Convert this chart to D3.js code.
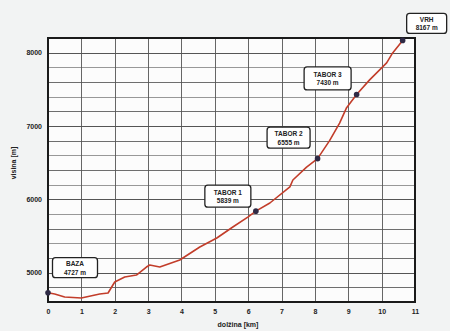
<!DOCTYPE html>
<meta charset="utf-8">
<style>
body { margin: 0; background: #f2f3f3; }
.grid line { stroke: #555; shape-rendering: crispEdges; }
.grid path { stroke-width: 0; }
.tick text { font: bold 7px "Liberation Sans", Arial, sans-serif; fill: #222; }
.axis path, .axis line { stroke: none; }
.profile { fill: none; stroke: #c23d2a; stroke-width: 1.6px; stroke-linejoin: round; }
.camp { fill: #2f2a45; }
.box rect { fill: #fff; stroke: #222; stroke-width: 1.3px; }
.box text { font: bold 6.5px "Liberation Sans", Arial, sans-serif; fill: #222; text-anchor: middle; }
.title { font: bold 7px "Liberation Sans", Arial, sans-serif; fill: #222; }
</style>
<body>
<script src="https://d3js.org/d3.v7.min.js"></script>
<script>
// route profile: distance [km], altitude [m]
var distKm = [0, 0.2, 0.5, 1.0, 1.55, 1.8, 2.0, 2.3, 2.65, 2.95, 3.05, 3.35, 3.95, 4.55, 5.06, 5.54,
              6.0, 6.23, 6.65, 7.25, 7.34, 7.75, 8.08, 8.44, 8.74, 8.95, 9.25, 9.64, 10.15, 10.33, 10.63];
var altM   = [4727, 4709, 4668, 4655, 4709, 4723, 4873, 4941, 4968, 5077, 5105, 5077, 5173, 5350, 5473, 5623,
              5760, 5839, 5950, 6169, 6264, 6440, 6555, 6800, 7040, 7250, 7430, 7629, 7861, 7997, 8167];

// camps
var campName = ["BAZA", "TABOR 1", "TABOR 2", "TABOR 3", "VRH"];
var campKm   = [0, 6.23, 8.08, 9.25, 10.63];
var campAlt  = [4727, 5839, 6555, 7430, 8167];

var xTicks = [0, 1, 2, 3, 4, 5, 6, 7, 8, 9, 10, 11];
var yTicks = [5000, 6000, 7000, 8000];
var yGrid = d3.range(4600, 8201, 200);

// label box layout: offset of box centre from the camp dot, and box size
var boxLayout = [
  {dx: 27, dy: -25, w: 45, h: 20},
  {dx: -28, dy: -15, w: 46, h: 22},
  {dx: -29, dy: -21, w: 43, h: 21},
  {dx: -29, dy: -16, w: 47, h: 23},
  {dx: 24, dy: -17, w: 40, h: 20}
];

var margin = {top: 38, right: 35, bottom: 29, left: 48},
    width = 450 - margin.left - margin.right,
    height = 331 - margin.top - margin.bottom;

var x = d3.scaleLinear().domain([0, 11]).range([0, width]);
var y = d3.scaleLinear().domain([4600, 8200]).range([height, 0]);

var svg = d3.select("body").append("svg")
    .attr("width", 450)
    .attr("height", 331)
  .append("g")
    .attr("transform", "translate(" + margin.left + "," + margin.top + ")");

svg.append("rect")
    .attr("width", width).attr("height", height)
    .attr("fill", "#fcfcfc");

// gridlines
svg.append("g")
    .attr("class", "grid")
    .attr("transform", "translate(0," + height + ")")
    .call(d3.axisBottom(x).tickValues(xTicks).tickSize(-height).tickFormat(""))
    .selectAll("line").attr("stroke-opacity", 0.9);
svg.append("g")
    .attr("class", "grid")
    .call(d3.axisLeft(y).tickValues(yGrid).tickSize(-width).tickFormat(""))
    .selectAll("line")
    .attr("stroke-opacity", function(d) { return d % 1000 === 0 ? 1 : (d % 400 === 0 ? 0.85 : 0.6); });

// frame
svg.append("rect")
    .attr("width", width).attr("height", height)
    .attr("fill", "none").attr("stroke", "#1a1a1a").attr("stroke-width", 2);

// axes
svg.append("g")
    .attr("class", "axis")
    .attr("transform", "translate(0," + height + ")")
    .call(d3.axisBottom(x).tickValues(xTicks).tickSize(0).tickPadding(7).tickFormat(d3.format("d")));
svg.append("g")
    .attr("class", "axis")
    .call(d3.axisLeft(y).tickValues(yTicks).tickSize(0).tickPadding(6).tickFormat(d3.format("d")));

// profile line
var line = d3.line()
    .x(function(d, i) { return x(distKm[i]); })
    .y(function(d) { return y(d); });
svg.append("path")
    .datum(altM)
    .attr("class", "profile")
    .attr("d", line);

// camps
svg.selectAll(".camp")
    .data(campName)
  .enter().append("circle")
    .attr("class", "camp")
    .attr("r", 2.8)
    .attr("cx", function(d, i) { return x(campKm[i]); })
    .attr("cy", function(d, i) { return y(campAlt[i]); });

var box = svg.selectAll(".box")
    .data(campName)
  .enter().append("g")
    .attr("class", "box")
    .attr("transform", function(d, i) {
      return "translate(" + (x(campKm[i]) + boxLayout[i].dx) + "," + (y(campAlt[i]) + boxLayout[i].dy) + ")";
    });
box.append("rect")
    .attr("rx", 3)
    .attr("x", function(d, i) { return -boxLayout[i].w / 2; })
    .attr("y", function(d, i) { return -boxLayout[i].h / 2; })
    .attr("width", function(d, i) { return boxLayout[i].w; })
    .attr("height", function(d, i) { return boxLayout[i].h; });
box.append("text")
    .attr("y", -1.5)
    .text(function(d) { return d; });
box.append("text")
    .attr("y", 7)
    .text(function(d, i) { return campAlt[i] + " m"; });

// axis titles
svg.append("text")
    .attr("class", "title")
    .attr("x", 190)
    .attr("y", 289)
    .attr("text-anchor", "middle")
    .text("dolžina [km]");
svg.append("text")
    .attr("class", "title")
    .attr("transform", "translate(-32,125) rotate(-90)")
    .attr("text-anchor", "middle")
    .text("visina [m]");
</script>
</body>
